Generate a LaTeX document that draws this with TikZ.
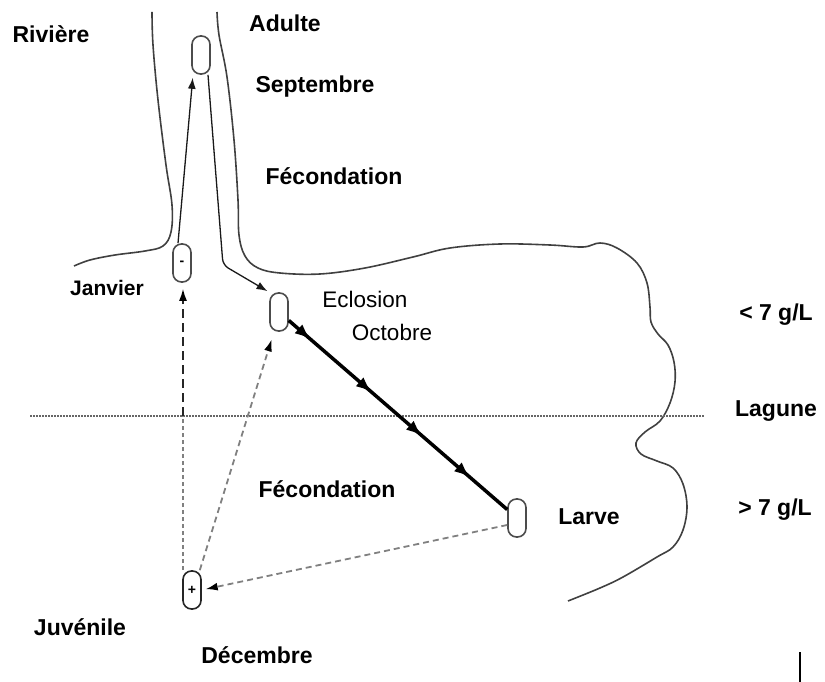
\documentclass[tikz,border=0pt]{standalone}
\usepackage{fontspec}
\setmainfont{Liberation Sans}
\usetikzlibrary{arrows.meta,decorations.markings}
\begin{document}
\begin{tikzpicture}[x=1pt,y=-1pt,
  capsule/.style={draw=black!70, line width=1.6pt, rounded corners=8.5pt, minimum width=18pt, minimum height=38pt, inner sep=0pt, font=\fontsize{14}{14}\selectfont\bfseries},
  lbl/.style={anchor=base, inner sep=0pt, font=\fontsize{23}{27}\selectfont\bfseries},
  lblr/.style={anchor=base, inner sep=0pt, font=\fontsize{22.5}{27}\selectfont},
  bank/.style={draw=black!75, line width=1.6pt},
  solidarrow/.style={draw=black!90, line width=1.3pt, -{Latex[length=11pt,width=8pt]}, shorten >=3pt},
  dasharrow/.style={draw=black!50, line width=1.8pt, dash pattern=on 6pt off 4pt, -{Latex[length=12pt,width=8pt,black]}},
  shortdash/.style={draw=black!50, line width=1.8pt, dash pattern=on 4pt off 3pt},
  longdash/.style={draw=black!85, line width=1.6pt, dash pattern=on 9pt off 5pt, -{Latex[length=12pt,width=8pt,black]}},
  thickarrow/.style={draw=black, line width=3.5pt, postaction={decorate},
    decoration={markings,
      mark=at position 0.10 with {\arrow{Latex[length=16pt,width=12pt]}},
      mark=at position 0.38 with {\arrow{Latex[length=16pt,width=12pt]}},
      mark=at position 0.61 with {\arrow{Latex[length=16pt,width=12pt]}},
      mark=at position 0.83 with {\arrow{Latex[length=16pt,width=12pt]}}}}
]
\useasboundingbox (0,0) rectangle (825,682);

% river banks and lagoon shore
\draw[bank] plot[smooth, tension=0.6] coordinates {(152,12) (153,45) (158,100) (166,165) (172,205) (171,232) (163,246) (145,251) (115,255) (90,260) (74,266)};
\draw[bank] plot[smooth, tension=0.6] coordinates {(217,12) (219,35) (227,77) (234,140) (238,200) (239,235) (245,256) (258,268) (280,273) (320,274) (365,268) (413,257) (450,248) (500,244) (550,245) (583,247) (600,243) (617,248) (637,263) (647,283) (650,307) (651,322) (658,334) (668,345) (674,362) (675,382) (670,403) (660,421) (645,432) (636,443) (641,454) (657,461) (673,468) (683,484) (687,507) (683,530) (673,547) (657,557) (623,577) (600,588) (568,601)};

% salinity limit
\draw[black!60, line width=1.6pt, dash pattern=on 1.5pt off 1.5pt] (30,416) -- (705,416);

% stages
\node[capsule] (adu) at (201,55) {};
\node[capsule] (jan) at (182,263) {-};
\node[capsule] (ecl) at (279,312) {};
\node[capsule] (lar) at (517,518) {};
\node[capsule, draw=black!85] (juv) at (192,590) {+};

\coordinate (bend) at (223,265);
\coordinate (mid) at (183,416);

% connectors
\draw[solidarrow] ([xshift=-4pt]jan.north) -- ([xshift=-8pt]adu.south);
\draw[solidarrow, rounded corners=6pt, shorten >=2pt] ([xshift=7pt]adu.south) -- (bend) -- (ecl.north west);
\draw[thickarrow] (ecl) -- (lar);
\draw[dasharrow, shorten >=4pt] ([yshift=-7pt]lar.west) -- (juv.east);
\draw[dasharrow, shorten >=8pt] ([xshift=-2pt]juv.north east) -- ([xshift=-5pt]ecl.south);
\draw[shortdash] ([xshift=-9pt]juv.north) -- (mid);
\draw[longdash, shorten >=6pt] (mid) -- ([xshift=1pt]jan.south);

% labels
\node[lbl] (t1) at (51,43) {Rivière};
\node[lbl] (t2) at (285,32) {Adulte};
\node[lbl] (t3) at (315,93) {Septembre};
\node[lbl] (t4) at (334,185) {Fécondation};
\node[lbl, font=\fontsize{21}{25}\selectfont\bfseries] (t5) at (107,295) {Janvier};
\node[lblr] (t6) at (365,307) {Eclosion};
\node[lblr] (t7) at (392,340) {Octobre};
\node[lbl] (t8) at (776,320) {< 7 g/L};
\node[lbl] (t9) at (776,416) {Lagune};
\node[lbl] (t10) at (775,515) {> 7 g/L};
\node[lbl] (t11) at (327,497) {Fécondation};
\node[lbl] (t12) at (589,524) {Larve};
\node[lbl] (t13) at (80,635) {Juvénile};
\node[lbl] (t14) at (257,663) {Décembre};

\draw[line width=1.5pt] (800,652) -- (800,682);
\end{tikzpicture}
\end{document}
